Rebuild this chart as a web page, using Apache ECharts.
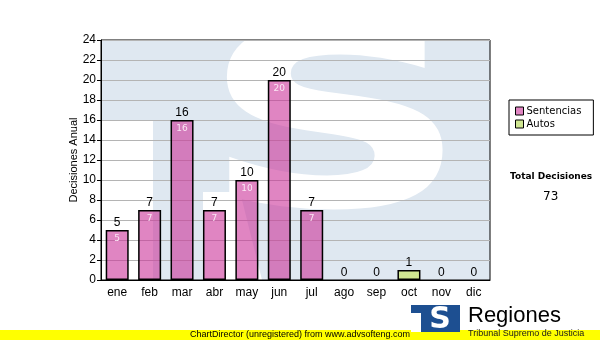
<!DOCTYPE html>
<html><head><meta charset="utf-8">
<script src="https://cdn.jsdelivr.net/npm/echarts@6/dist/echarts.min.js"></script>
<style>html,body{margin:0;padding:0;background:#fff}#c{width:600px;height:340px}</style>
</head><body><div id="c"></div>
<script>
var months = ['ene','feb','mar','abr','may','jun','jul','ago','sep','oct','nov','dic'];
var sentencias = [5,7,16,7,10,20,7,0,0,0,0,0];
var autos = [0,0,0,0,0,0,0,0,0,1,0,0];
var yTicks = {min:0, max:24, interval:2};
var seriesNames = ['Sentencias','Autos'];
var totalLabel = 'Total Decisiones';
var footer = 'ChartDirector (unregistered) from www.advsofteng.com';

var totals = months.map(function(m,i){return sentencias[i]+autos[i];});
var grand = totals.reduce(function(a,b){return a+b;},0);

function items(arr){
  return arr.map(function(v){
    return v === 0 ? {value:v, itemStyle:{borderWidth:0, color:'rgba(0,0,0,0)'}} : {value:v};
  });
}

var chart = echarts.init(document.getElementById('c'), null, {renderer:'canvas'});
var GL=101, GT=40, GR=490, GB=280;
chart.setOption({
  animation:false,
  textStyle:{fontFamily:'Liberation Sans, Arial, sans-serif'},
  grid:{left:GL, top:GT, right:600-GR, bottom:340-GB, show:true, borderColor:'#000', borderWidth:1, backgroundColor:'transparent'},
  xAxis:{type:'category', data:months,
    axisLine:{lineStyle:{color:'#000', width:1}},
    axisTick:{alignWithLabel:true, length:5, lineStyle:{color:'#000'}},
    axisLabel:{color:'#000', fontSize:12, margin:7}},
  yAxis:{type:'value', min:yTicks.min, max:yTicks.max, interval:yTicks.interval,
    name:'Decisiones Anual', nameLocation:'middle', nameGap:22, nameMoveOverlap:false,
    nameTextStyle:{color:'#000', fontSize:11},
    axisLine:{show:true, lineStyle:{color:'#000', width:1}},
    axisTick:{show:true, length:4, lineStyle:{color:'#000'}},
    axisLabel:{color:'#000', fontSize:12, margin:5},
    splitLine:{lineStyle:{color:'#b4b4b4', width:1}}},
  legend:{data:seriesNames, orient:'vertical', left:509, top:100, itemWidth:8, itemHeight:8, itemGap:3,
    padding:[6,12,6,6], borderColor:'#000', borderWidth:1, backgroundColor:'#fff', icon:'rect',
    textStyle:{fontSize:10, fontFamily:'DejaVu Sans', color:'#000', padding:[0,0,0,-2]},
    itemStyle:{borderColor:'#000', borderWidth:1}},
  graphic:[
    {type:'polygon', z:-10, silent:true, shape:{points:[[GL,GT],[GR,GT],[GR,GB],[153,GB],[153,120],[GL,120]]}, style:{fill:'#dfe8f1'}},
    {type:'text', z:-9, silent:true, scaleX:1.5, originX:335, originY:141,
      style:{text:'S', x:335, y:141, fill:'#fff', font:'bold 250px "DejaVu Sans"', align:'center', verticalAlign:'middle'}},
    {type:'polygon', z:-9, silent:true, shape:{points:[[203,192],[240,192],[262,280],[203,280]]}, style:{fill:'#fff'}},
    {type:'rect', z:-8, silent:true, shape:{x:0, y:GB+1, width:GR+1, height:60}, style:{fill:'#fff'}},
    {type:'rect', z:-8, silent:true, shape:{x:0, y:0, width:600, height:GT}, style:{fill:'#fff'}},
    {type:'text', left:510, top:172, style:{text:totalLabel, font:'bold 9px "DejaVu Sans"', fill:'#000'}},
    {type:'text', left:543, top:191, style:{text:String(grand), font:'12px "DejaVu Sans"', fill:'#000'}},
    {type:'rect', shape:{x:0, y:330, width:600, height:10}, style:{fill:'#ffff00'}},
    {type:'text', style:{text:footer, x:300, y:335, align:'center', verticalAlign:'middle', font:'9px "Liberation Sans"', fill:'#000'}},
    {type:'rect', shape:{x:411, y:305, width:49, height:27}, style:{fill:'#1d4f91'}},
    {type:'rect', shape:{x:411, y:313, width:10, height:19}, style:{fill:'#fff'}},
    {type:'text', style:{text:'S', x:440, y:320, align:'center', verticalAlign:'middle', font:'bold 30px "DejaVu Sans"', fill:'#fff'}},
    {type:'text', style:{text:'Regiones', x:468, y:316, verticalAlign:'middle', font:'22px "Liberation Sans"', fill:'#000'}},
    {type:'text', style:{text:'Tribunal Supremo de Justicia', x:468, y:334, verticalAlign:'middle', font:'9px "Liberation Sans"', fill:'#1a1a1a'}}
  ],
  series:[
    {name:seriesNames[0], type:'bar', stack:'t', barWidth:23, data:items(sentencias),
      itemStyle:{color:'rgba(204,51,153,0.6)', borderColor:'#000', borderWidth:1.5},
      label:{show:true, position:'insideTop', distance:4, color:'#fbe6f4', fontSize:9, fontFamily:'DejaVu Sans',
        formatter:function(p){return p.value>0?String(p.value):'';}}},
    {name:seriesNames[1], type:'bar', stack:'t', barWidth:23, data:items(autos),
      itemStyle:{color:'#cfe691', borderColor:'#000', borderWidth:1.5}},
    {name:'total', type:'bar', stack:'t', barWidth:23, data:months.map(function(){return 0;}),
      itemStyle:{color:'rgba(0,0,0,0)', borderWidth:0},
      label:{show:true, position:'top', distance:1, color:'#000', fontSize:12,
        formatter:function(p){return String(totals[p.dataIndex]);}}}
  ]
});
</script></body></html>
